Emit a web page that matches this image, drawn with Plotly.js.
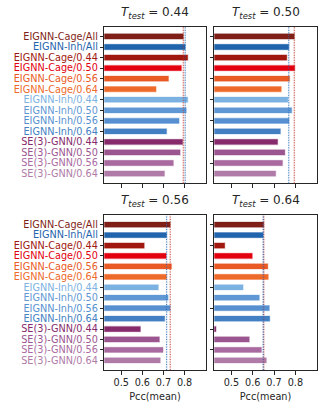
<!DOCTYPE html>
<html>
<head>
<meta charset="utf-8">
<script src="https://cdn.plot.ly/plotly-3.0.1.min.js"></script>
<style>html,body{margin:0;padding:0;background:#fff;}#chart{width:327px;height:415px;}</style>
</head>
<body>
<div id="chart"></div>
<script>
const categories = ['EIGNN-Cage/All','EIGNN-Inh/All','EIGNN-Cage/0.44','EIGNN-Cage/0.50','EIGNN-Cage/0.56','EIGNN-Cage/0.64','EIGNN-Inh/0.44','EIGNN-Inh/0.50','EIGNN-Inh/0.56','EIGNN-Inh/0.64','SE(3)-GNN/0.44','SE(3)-GNN/0.50','SE(3)-GNN/0.56','SE(3)-GNN/0.64'];
const colors = ['#7f1f17','#1f64ad','#a0180f','#e3000f','#e95a25','#ee6a2a','#7cb2e2','#5f98d4','#5690d1','#427fc3','#862a6c','#9b5590','#a96a9f','#b07ba7'];
const testSets = ['0.44','0.50','0.56','0.64'];
const pcc_044 = [0.794,0.803,0.815,0.785,0.724,0.665,0.815,0.808,0.774,0.715,0.791,0.779,0.747,0.705];
const pcc_050 = [0.795,0.769,0.760,0.797,0.773,0.734,0.765,0.783,0.770,0.730,0.717,0.751,0.740,0.708];
const pcc_056 = [0.732,0.715,0.609,0.713,0.738,0.715,0.676,0.722,0.732,0.706,0.591,0.681,0.698,0.685];
const pcc_064 = [0.652,0.649,0.469,0.598,0.671,0.673,0.555,0.631,0.678,0.680,0.428,0.584,0.641,0.664];
const xTicks = [0.5,0.6,0.7,0.8];
const xTickLabels = ['0.5','0.6','0.7','0.8'];
const allStd = [0.004,0.004,0.004,0.004];

const panels = [pcc_044, pcc_050, pcc_056, pcc_064];
const FONT = 'DejaVu Sans, sans-serif';
const W = 327, H = 415;
const xDom = [[104.3/W, 205.7/W],[214.3/W, 316.7/W]];
const yDom = [[1-183.3/H, 1-26.7/H],[1-370/H, 1-215/H]];

function rgba(hex, a){
  const r=parseInt(hex.slice(1,3),16),g=parseInt(hex.slice(3,5),16),b=parseInt(hex.slice(5,7),16);
  return `rgba(${r},${g},${b},${a})`;
}

const data = [];
const layout = {
  width: W, height: H,
  margin: {l:0,r:0,t:0,b:0},
  paper_bgcolor:'#fff', plot_bgcolor:'#fff',
  showlegend:false,
  font:{family:FONT, size:9.7, color:'#262626'},
  bargap:0,
  shapes:[], annotations:[]
};

panels.forEach((vals, i) => {
  const n = i+1;
  const col = i%2, row = Math.floor(i/2);
  const xa = n===1 ? 'xaxis' : 'xaxis'+n;
  const ya = n===1 ? 'yaxis' : 'yaxis'+n;
  const xr = n===1 ? 'x' : 'x'+n;
  const yr = n===1 ? 'y' : 'y'+n;
  data.push({
    type:'bar', orientation:'h',
    x: vals, y: categories,
    xaxis: xr, yaxis: yr,
    width: 0.5,
    marker:{color: colors, line:{color: colors.map(c=>rgba(c,0.3)), width:1.2}},
    hoverinfo:'x+y'
  });
  const xaxis = {
    domain: xDom[col], anchor: yr,
    range:[0.42,0.9],
    tickmode:'array', tickvals: xTicks, ticktext: xTickLabels,
    showticklabels: row===1,
    ticks:'outside', ticklen:3.5, tickwidth:1, tickcolor:'#262626',
    showline:true, mirror:true, linecolor:'#262626', linewidth:1,
    showgrid:false, zeroline:false,
    tickfont:{family:FONT, size:9.7, color:'#262626'}
  };
  if (row===1) xaxis.title = {text:'Pcc(mean)', font:{family:FONT,size:9.7,color:'#262626'}, standoff:6};
  layout[xa] = xaxis;
  const yaxis = {
    domain: yDom[row], anchor: xr,
    type:'category',
    range:[13.925,-0.925],
    showticklabels: col===0,
    ticks:'outside', ticklen:3.5, tickwidth:1, tickcolor:'#262626',
    showline:true, mirror:true, linecolor:'#262626', linewidth:1,
    showgrid:false, zeroline:false,
    tickfont:{family:FONT, size:9.7}
  };
  if (col===0) {
    yaxis.tickmode = 'array';
    yaxis.tickvals = categories;
    yaxis.ticktext = categories.map((c,k)=>`<span style="color:${colors[k]}">${c}</span>`);
  }
  layout[ya] = yaxis;
  // reference lines at the "All" models' values
  [[0,'#c0392b'],[1,'#2a6bb5']].forEach(([k,c]) => {
    const v = vals[k];
    layout.shapes.push({type:'rect', xref:xr, yref:yr+' domain', x0:v-allStd[i], x1:v+allStd[i], y0:0, y1:1,
      fillcolor:rgba(c,0.13), line:{width:0}, layer:'below'});
    layout.shapes.push({type:'line', xref:xr, yref:yr+' domain', x0:v, x1:v, y0:0, y1:1,
      line:{color:c, width:0.9, dash:'1px,1.5px'}, layer:'above'});
  });
  layout.annotations.push({
    xref: xr+' domain', yref: yr+' domain', x:0.5, y:1, yanchor:'bottom', yshift:4,
    showarrow:false,
    text:`<i>T</i><sub><i>test</i></sub> = ${testSets[i]}`,
    font:{family:FONT, size:12, color:'#262626'}
  });
});

Plotly.newPlot('chart', data, layout, {displayModeBar:false, staticPlot:true});
</script>
</body>
</html>
